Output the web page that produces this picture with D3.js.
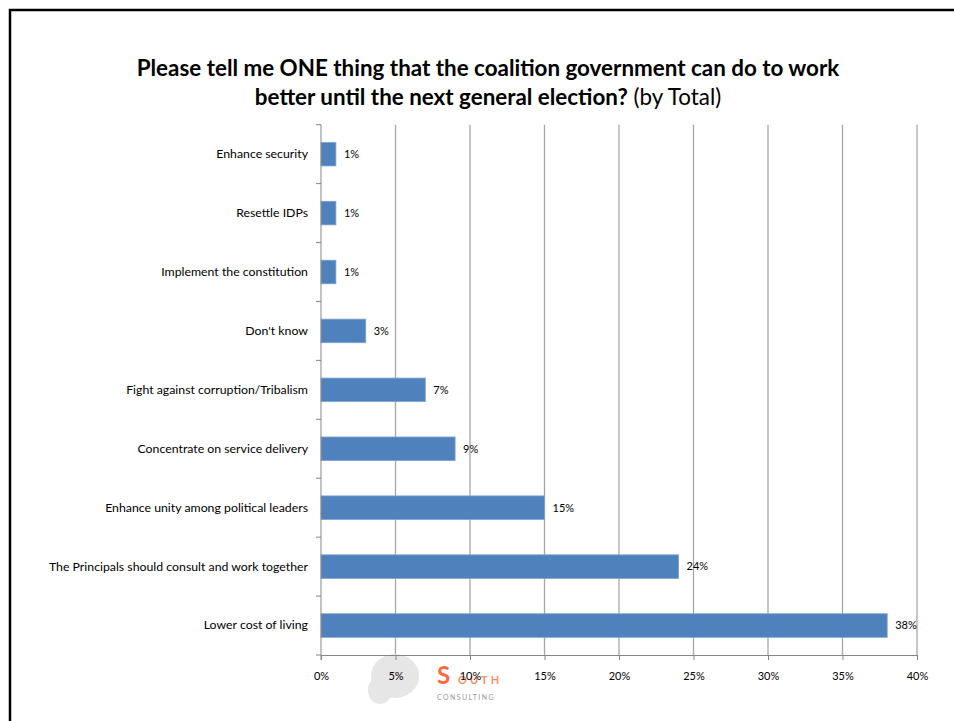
<!DOCTYPE html>
<html>
<head>
<meta charset="utf-8">
<script src="https://cdn.jsdelivr.net/npm/d3@7"></script>
<style>
  html, body { margin: 0; padding: 0; background: #fff; }
  svg { display: block; }
</style>
</head>
<body>
<svg id="chart" width="954" height="721"></svg>
<script>
// ---- data ----
const categories = [
  'Enhance security',
  'Resettle IDPs',
  'Implement the constitution',
  "Don't know",
  'Fight against corruption/Tribalism',
  'Concentrate on service delivery',
  'Enhance unity among political leaders',
  'The Principals should consult and work together',
  'Lower cost of living'
];
const values = [1, 1, 1, 3, 7, 9, 15, 24, 38];   // percent
const xTicks = [0, 5, 10, 15, 20, 25, 30, 35, 40];

const titleLine1 = 'Please tell me ONE thing that the coalition government can do to work';
const titleLine2Bold = 'better until the next general election?';
const titleLine2Rest = ' (by Total)';

// ---- layout ----
const FONT = 'Lato, "Open Sans", sans-serif';
const PLOT = { left: 321, right: 917, top: 124.7, bottom: 655 };
const BAR_COLOR = '#4F81BD';
const GRID_COLOR = '#A6A6A6';
const AXIS_COLOR = '#868686';

const svg = d3.select('#chart');

// marco negro (se corta a la derecha y abajo)
svg.append('rect')
  .attr('x', 10).attr('y', 10)
  .attr('width', 980).attr('height', 760)
  .attr('fill', 'none')
  .attr('stroke', '#000')
  .attr('stroke-width', 2.5);

// titulo
const title = svg.append('text')
  .attr('x', 488)
  .attr('text-anchor', 'middle')
  .attr('font-family', FONT)
  .attr('fill', '#000');
title.append('tspan')
  .attr('x', 488).attr('y', 76)
  .attr('font-size', 22.4).attr('font-weight', 'bold')
  .text(titleLine1);
const l2 = title.append('tspan')
  .attr('x', 488).attr('y', 105)
  .attr('font-size', 22.4);
l2.append('tspan').attr('font-weight', 'bold').text(titleLine2Bold);
l2.append('tspan').attr('font-weight', 'normal').text(titleLine2Rest);

// escalas
const x = d3.scaleLinear().domain([0, 40]).range([PLOT.left, PLOT.right]);
const y = d3.scaleBand()
  .domain(categories)
  .range([PLOT.top, PLOT.bottom])
  .paddingInner(0.6)
  .paddingOuter(0.3);

// grilla vertical
svg.append('g')
  .selectAll('line')
  .data(xTicks.filter(d => d > 0))
  .join('line')
  .attr('x1', d => x(d)).attr('x2', d => x(d))
  .attr('y1', PLOT.top).attr('y2', PLOT.bottom)
  .attr('stroke', GRID_COLOR)
  .attr('stroke-width', 1.3);

// barras
svg.append('g')
  .selectAll('rect')
  .data(categories.map((c, i) => ({ c, v: values[i] })))
  .join('rect')
  .attr('x', x(0))
  .attr('y', d => y(d.c))
  .attr('width', d => x(d.v) - x(0))
  .attr('height', y.bandwidth())
  .attr('fill', BAR_COLOR)
  .attr('stroke', '#7EA3D0')
  .attr('stroke-width', 0.8);

// etiquetas de valor
svg.append('g')
  .selectAll('text')
  .data(categories.map((c, i) => ({ c, v: values[i] })))
  .join('text')
  .attr('x', d => x(d.v) + 8)
  .attr('y', d => y(d.c) + y.bandwidth() / 2)
  .attr('dy', '0.35em')
  .attr('font-family', FONT)
  .attr('font-size', 11)
  .attr('fill', '#000')
  .text(d => d.v + '%');

// marca de agua "South Consulting" (aproximada, va debajo de los ejes)
const wm = svg.append('g');
wm.append('ellipse')
  .attr('cx', 395).attr('cy', 676).attr('rx', 24).attr('ry', 22)
  .attr('fill', '#E6E6E6');
wm.append('ellipse')
  .attr('cx', 380).attr('cy', 690).attr('rx', 12).attr('ry', 14)
  .attr('fill', '#E6E6E6');
wm.append('text')
  .attr('x', 437).attr('y', 684)
  .attr('font-family', FONT).attr('font-weight', 'bold')
  .attr('font-size', 24).attr('fill', '#FF6A3D')
  .text('S');
wm.append('text')
  .attr('x', 458).attr('y', 684)
  .attr('font-family', FONT).attr('font-weight', 'bold')
  .attr('font-size', 11).attr('letter-spacing', 3).attr('fill', '#FF8A66')
  .text('OUTH');
wm.append('text')
  .attr('x', 437).attr('y', 700)
  .attr('font-family', FONT)
  .attr('font-size', 7).attr('letter-spacing', 1.4).attr('fill', '#999')
  .text('CONSULTING');

// eje x
const xAxis = svg.append('g')
  .attr('transform', `translate(0,${PLOT.bottom})`)
  .call(d3.axisBottom(x)
    .tickValues(xTicks)
    .tickFormat(d => d + '%')
    .tickSize(5)
    .tickPadding(12));
xAxis.select('.domain').attr('stroke', AXIS_COLOR);
xAxis.selectAll('.tick line').attr('stroke', AXIS_COLOR);
xAxis.selectAll('.tick text')
  .attr('font-family', FONT)
  .attr('font-size', 11)
  .attr('fill', '#000');

// eje y: etiquetas en el centro de cada banda, ticks en los bordes
const yAxis = svg.append('g')
  .attr('transform', `translate(${PLOT.left},0)`)
  .call(d3.axisLeft(y).tickSize(0).tickPadding(13));
yAxis.select('.domain').remove();
yAxis.selectAll('.tick text')
  .attr('font-family', FONT)
  .attr('font-size', 12.3)
  .attr('fill', '#000');

const step = y.step();
svg.append('g')
  .selectAll('line')
  .data(d3.range(categories.length + 1))
  .join('line')
  .attr('x1', PLOT.left - 5).attr('x2', PLOT.left)
  .attr('y1', i => PLOT.top + i * step)
  .attr('y2', i => PLOT.top + i * step)
  .attr('stroke', AXIS_COLOR);
svg.append('line')
  .attr('x1', PLOT.left).attr('x2', PLOT.left)
  .attr('y1', PLOT.top).attr('y2', PLOT.bottom + 5)
  .attr('stroke', AXIS_COLOR);
</script>
</body>
</html>
